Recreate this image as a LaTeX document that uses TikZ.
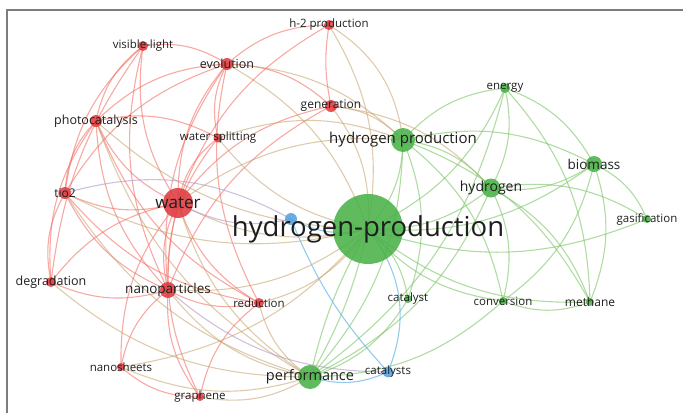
\documentclass[tikz,border=0pt]{standalone}
\usepackage{fontspec}
\setmainfont{Open Sans}
\usetikzlibrary{backgrounds}
\definecolor{nred}{RGB}{222,60,64}
\definecolor{ngreen}{RGB}{74,178,72}
\definecolor{nblue}{RGB}{86,162,222}
\definecolor{ered}{RGB}{242,112,104}
\definecolor{egreen}{RGB}{122,196,100}
\definecolor{eblue}{RGB}{112,186,228}
\definecolor{eolive}{RGB}{196,160,104}
\definecolor{epurple}{RGB}{176,150,200}
\definecolor{txt}{RGB}{30,30,30}
\definecolor{frame}{RGB}{125,125,125}
\newdimen\eax \newdimen\eay \newdimen\ebx \newdimen\eby
\newcommand\ed[4][20]{%
  \pgfextractx{\eax}{\pgfpointanchor{#3}{center}}%
  \pgfextracty{\eay}{\pgfpointanchor{#3}{center}}%
  \pgfextractx{\ebx}{\pgfpointanchor{#4}{center}}%
  \pgfextracty{\eby}{\pgfpointanchor{#4}{center}}%
  \pgfmathsetmacro\bnd{((-(\eby-\eay)/100)*((\eax+\ebx)/200-3.4) + ((\ebx-\eax)/100)*((\eay+\eby)/200+2.1)) > 0 ? #1 : -#1}%
  \draw[#2] (#3.center) to[bend left=\bnd] (#4.center);}
\begin{document}
\begin{tikzpicture}[x=1pt,y=-1pt,
  kw/.style={circle,inner sep=0pt,draw=none,fill opacity=0.88},
  rn/.style={kw,fill=nred,minimum size=#1},
  gn/.style={kw,fill=ngreen,minimum size=#1},
  bn/.style={kw,fill=nblue,minimum size=#1},
  lbl/.style={text=txt,inner sep=0pt,font=\fontsize{#1}{#1}\selectfont},
  lbl/.default=11.5,
  re/.style={draw=ered,line width=1.1pt,draw opacity=0.6},
  ge/.style={draw=egreen,line width=1.1pt,draw opacity=0.6},
  be/.style={draw=eblue,line width=1.1pt,draw opacity=0.75},
  oe/.style={draw=eolive,line width=1.1pt,draw opacity=0.55},
  pe/.style={draw=epurple,line width=1.1pt,draw opacity=0.6}]
\useasboundingbox (0,0) rectangle (683,413);
\draw[frame,line width=1.8pt] (7,413) -- (7,10) -- (683,10);
% circles
\node[rn=10pt] (h2) at (329,25) {};
\node[rn=10pt] (vl) at (143,46) {};
\node[rn=12pt] (ev) at (227,64) {};
\node[rn=12pt] (gen) at (331,106) {};
\node[rn=12pt] (pc) at (96,121) {};
\node[rn=9pt] (ws) at (218,138) {};
\node[rn=12pt] (tio) at (65,193) {};
\node[rn=30pt] (wat) at (178,203) {};
\node[bn=12pt] (bx) at (291,219) {};
\node[gn=70pt] (hp) at (368,229) {};
\node[gn=24pt] (hps) at (403,140) {};
\node[gn=10pt] (en) at (505,88) {};
\node[gn=16pt] (bio) at (594,164) {};
\node[gn=19pt] (hy) at (491,188) {};
\node[gn=8pt] (gas) at (647,219) {};
\node[gn=8pt] (cat) at (408,299) {};
\node[gn=8pt] (conv) at (503,301) {};
\node[gn=8pt] (meth) at (590,302) {};
\node[bn=11pt] (cats) at (388,372) {};
\node[gn=24pt] (perf) at (310,377) {};
\node[rn=8pt] (gra) at (200,397) {};
\node[rn=8pt] (ns) at (121,367) {};
\node[rn=10pt] (rd) at (259,303) {};
\node[rn=16pt] (np) at (168,290) {};
\node[rn=10pt] (deg) at (51,282) {};
% edges
\begin{scope}[on background layer]
% red
\ed{re}{vl}{ev} \ed{re}{vl}{pc} \ed{re}{vl}{tio} \ed{re}{vl}{wat} \ed{re}{vl}{np} \ed[14]{re}{vl}{deg}
\ed{re}{ev}{h2} \ed{re}{ev}{pc} \ed{re}{ev}{wat} \ed{re}{ev}{np} \ed{re}{ev}{gen} \ed{re}{ev}{ws} \ed{re}{ev}{tio} \ed{re}{ev}{rd}
\ed{re}{h2}{wat} \ed[10]{re}{h2}{gen}
\ed{re}{gen}{wat} \ed{re}{gen}{np}
\ed{re}{pc}{tio} \ed{re}{pc}{wat} \ed{re}{pc}{deg} \ed{re}{pc}{np} \ed{re}{pc}{ws} \ed{re}{pc}{rd}
\ed{re}{ws}{wat} \ed{re}{ws}{np}
\ed{re}{tio}{wat} \ed{re}{tio}{np} \ed{re}{tio}{deg} \ed{re}{tio}{rd}
\ed{re}{wat}{np} \ed{re}{wat}{deg} \ed{re}{wat}{rd} \ed{re}{wat}{gra} \ed{re}{wat}{ns}
\ed{re}{deg}{np} \ed{re}{np}{rd} \ed{re}{np}{ns} \ed{re}{np}{gra} \ed{re}{ns}{gra} \ed{re}{gra}{rd}
% mixed red-green
\ed{oe}{ev}{hps} \ed{oe}{ev}{hp} \ed{oe}{h2}{hp} \ed[25]{oe}{h2}{hps} \ed{oe}{gen}{hp} \ed{oe}{gen}{hps} \ed{oe}{gen}{hy}
\ed{oe}{pc}{hp} \ed{oe}{pc}{perf} \ed{oe}{ws}{hp} \ed{oe}{ws}{hps} \ed{oe}{tio}{hp} \ed{oe}{tio}{perf}
\ed{oe}{wat}{hp} \ed{oe}{wat}{hps} \ed{oe}{wat}{perf} \ed{oe}{deg}{perf} \ed{oe}{np}{hp} \ed{oe}{np}{perf}
\ed{oe}{ns}{perf} \ed{oe}{ns}{hp} \ed{oe}{gra}{perf} \ed{oe}{rd}{hp} \ed{oe}{rd}{perf}
% red-blue
\ed{pe}{wat}{bx} \ed[-22]{pe}{tio}{bx} \ed{pe}{np}{cats}
% green
\ed{ge}{hp}{hps} \ed{ge}{hp}{en} \ed{ge}{hp}{hy} \ed{ge}{hp}{bio} \ed{ge}{hp}{gas} \ed{ge}{hp}{cat} \ed{ge}{hp}{conv} \ed{ge}{hp}{meth}
\ed[8]{ge}{hp}{perf} \ed[-8]{ge}{hp}{perf}
\ed{ge}{hps}{en} \ed{ge}{hps}{hy} \ed{ge}{hps}{bio} \ed{ge}{hps}{perf} \ed{ge}{hps}{cat} \ed{ge}{hps}{meth} \ed{ge}{hps}{conv}
\ed{ge}{en}{hy} \ed{ge}{en}{bio} \ed{ge}{en}{meth} \ed{ge}{en}{perf}
\ed{ge}{hy}{bio} \ed{ge}{hy}{conv} \ed{ge}{hy}{meth} \ed{ge}{hy}{perf} \ed{ge}{hy}{gas}
\ed{ge}{bio}{gas} \ed{ge}{bio}{conv} \ed{ge}{bio}{meth} \ed{ge}{meth}{conv} \ed{ge}{perf}{cat} \ed{ge}{perf}{conv}
% blue
\ed{be}{bx}{hp} \ed[10]{be}{bx}{cats} \ed[30]{be}{hp}{cats} \ed{be}{perf}{cats}
\end{scope}
% labels
\node[lbl] (h2-t) at (h2) {h-2 production};
\node[lbl] (vl-t) at (vl) {visible-light};
\node[lbl=12.5] (ev-t) at (ev) {evolution};
\node[lbl=12] (gen-t) at (gen) {generation};
\node[lbl=12.5] (pc-t) at (pc) {photocatalysis};
\node[lbl] (ws-t) at (ws) {water splitting};
\node[lbl=12] (tio-t) at (tio) {tio2};
\node[lbl=17] (wat-t) at (wat) {water};
\node[lbl=27.5] (hp-t) at (hp) {hydrogen-production};
\node[lbl=15] (hps-t) at (hps) {hydrogen production};
\node[lbl=11.5] (en-t) at (en) {energy};
\node[lbl=13.5] (bio-t) at (bio) {biomass};
\node[lbl=14] (hy-t) at (hy) {hydrogen};
\node[lbl] (gas-t) at (gas) {gasification};
\node[lbl] (cat-t) at (cat) {catalyst};
\node[lbl] (conv-t) at (conv) {conversion};
\node[lbl=12] (meth-t) at (meth) {methane};
\node[lbl] (cats-t) at (cats) {catalysts};
\node[lbl=14.5] (perf-t) at (perf) {performance};
\node[lbl] (gra-t) at (gra) {graphene};
\node[lbl] (ns-t) at (ns) {nanosheets};
\node[lbl] (rd-t) at (rd) {reduction};
\node[lbl=13.5] (np-t) at (np) {nanoparticles};
\node[lbl=12.5] (deg-t) at (deg) {degradation};
\end{tikzpicture}
\end{document}
